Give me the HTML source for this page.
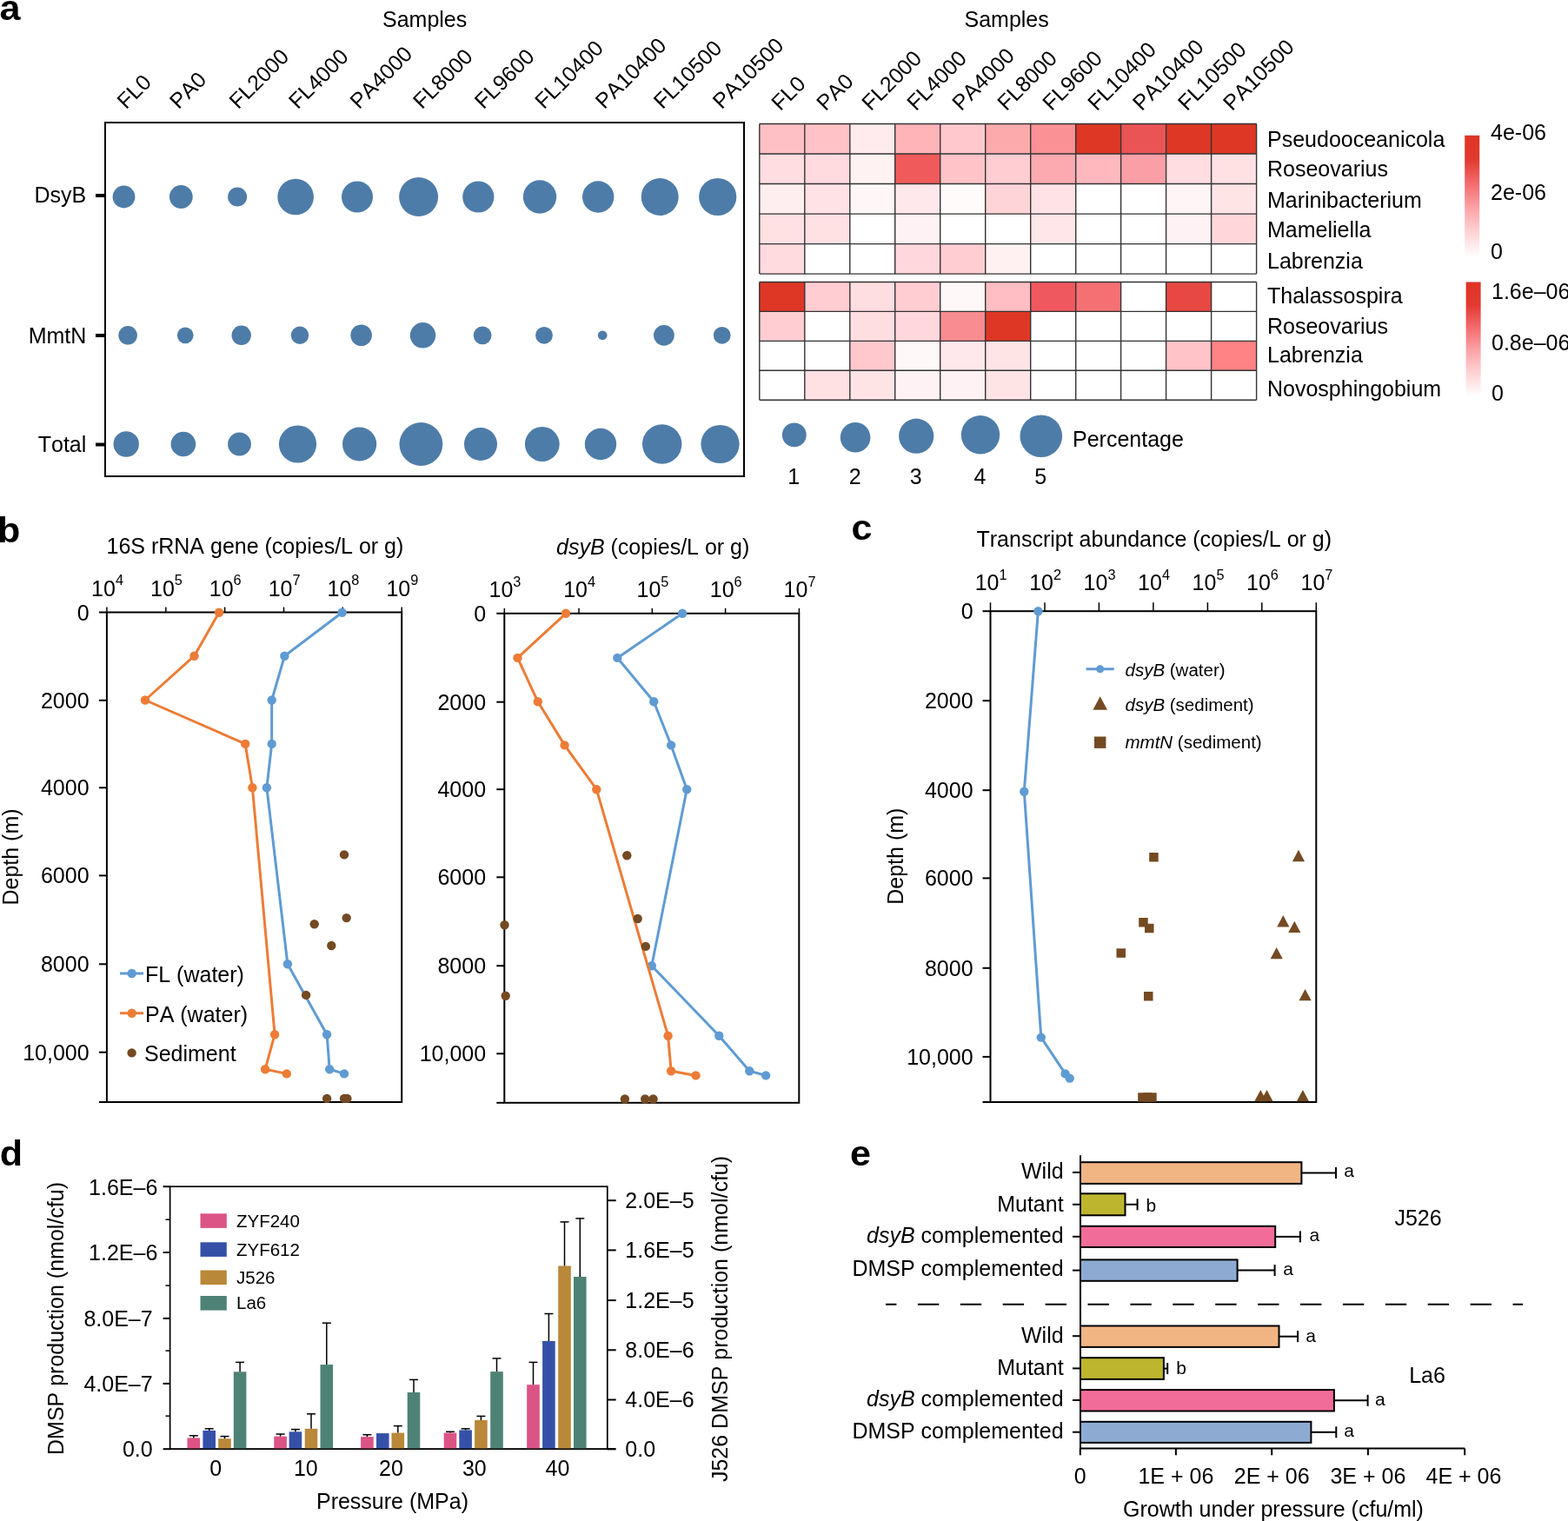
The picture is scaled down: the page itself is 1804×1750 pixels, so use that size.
<!DOCTYPE html>
<html><head><meta charset="utf-8"><title>Figure</title>
<style>
html,body{margin:0;padding:0;background:#fff;}
svg{display:block;}
text{font-family:"Liberation Sans", Arial, Helvetica, sans-serif;fill:#000;font-kerning:none;}
</style></head>
<body>
<svg width="1804" height="1750" viewBox="0 0 1804 1750">
<rect x="0" y="0" width="1804" height="1750" fill="#fff"/>
<text x="0" y="0" font-size="40.7" font-weight="bold" transform="translate(-0.5,23.2) scale(1.06,1)">a</text>
<text x="0" y="0" font-size="40.7" font-weight="bold" transform="translate(-3.0,623.8) scale(1.06,1)">b</text>
<text x="0" y="0" font-size="40.7" font-weight="bold" transform="translate(979.5,620.6) scale(1.06,1)">c</text>
<text x="0" y="0" font-size="40.7" font-weight="bold" transform="translate(-0.3,1341.0) scale(1.06,1)">d</text>
<text x="0" y="0" font-size="40.7" font-weight="bold" transform="translate(978.0,1340.5) scale(1.06,1)">e</text>
<text x="440.0" y="31.4" font-size="25" text-anchor="start" >Samples</text>
<text x="0" y="0" font-size="25" transform="translate(145.0,126.6) rotate(-45)">FL0</text>
<text x="0" y="0" font-size="25" transform="translate(205.5,126.6) rotate(-45)">PA0</text>
<text x="0" y="0" font-size="25" transform="translate(274.0,126.6) rotate(-45)">FL2000</text>
<text x="0" y="0" font-size="25" transform="translate(342.5,126.6) rotate(-45)">FL4000</text>
<text x="0" y="0" font-size="25" transform="translate(413.0,126.6) rotate(-45)">PA4000</text>
<text x="0" y="0" font-size="25" transform="translate(485.5,126.6) rotate(-45)">FL8000</text>
<text x="0" y="0" font-size="25" transform="translate(556.3,126.6) rotate(-45)">FL9600</text>
<text x="0" y="0" font-size="25" transform="translate(625.8,126.6) rotate(-45)">FL10400</text>
<text x="0" y="0" font-size="25" transform="translate(695.3,126.6) rotate(-45)">PA10400</text>
<text x="0" y="0" font-size="25" transform="translate(762.2,126.6) rotate(-45)">FL10500</text>
<text x="0" y="0" font-size="25" transform="translate(830.3,126.6) rotate(-45)">PA10500</text>
<circle cx="142.5" cy="226.5" r="12.9" fill="#4e7ca8"/>
<circle cx="208.3" cy="226.5" r="13.4" fill="#4e7ca8"/>
<circle cx="273.1" cy="226.5" r="11.0" fill="#4e7ca8"/>
<circle cx="340.1" cy="226.5" r="20.8" fill="#4e7ca8"/>
<circle cx="411.0" cy="226.5" r="18.0" fill="#4e7ca8"/>
<circle cx="481.6" cy="226.5" r="22.5" fill="#4e7ca8"/>
<circle cx="550.3" cy="226.5" r="18.1" fill="#4e7ca8"/>
<circle cx="621.0" cy="226.5" r="19.2" fill="#4e7ca8"/>
<circle cx="688.2" cy="226.5" r="18.2" fill="#4e7ca8"/>
<circle cx="759.2" cy="226.5" r="21.5" fill="#4e7ca8"/>
<circle cx="825.7" cy="226.5" r="21.6" fill="#4e7ca8"/>
<circle cx="147.1" cy="385.8" r="10.8" fill="#4e7ca8"/>
<circle cx="213.2" cy="385.8" r="9.4" fill="#4e7ca8"/>
<circle cx="277.7" cy="385.8" r="11.2" fill="#4e7ca8"/>
<circle cx="345.0" cy="385.8" r="10.2" fill="#4e7ca8"/>
<circle cx="415.6" cy="385.8" r="12.3" fill="#4e7ca8"/>
<circle cx="486.5" cy="385.8" r="14.7" fill="#4e7ca8"/>
<circle cx="555.1" cy="385.8" r="10.4" fill="#4e7ca8"/>
<circle cx="626.0" cy="385.8" r="9.9" fill="#4e7ca8"/>
<circle cx="693.2" cy="385.8" r="5.4" fill="#4e7ca8"/>
<circle cx="763.9" cy="385.8" r="11.9" fill="#4e7ca8"/>
<circle cx="830.7" cy="385.8" r="9.9" fill="#4e7ca8"/>
<circle cx="145.2" cy="511.0" r="14.7" fill="#4e7ca8"/>
<circle cx="210.9" cy="511.0" r="14.3" fill="#4e7ca8"/>
<circle cx="275.5" cy="511.0" r="13.4" fill="#4e7ca8"/>
<circle cx="342.5" cy="511.0" r="21.6" fill="#4e7ca8"/>
<circle cx="413.6" cy="511.0" r="19.6" fill="#4e7ca8"/>
<circle cx="484.4" cy="511.0" r="24.9" fill="#4e7ca8"/>
<circle cx="553.0" cy="511.0" r="19.0" fill="#4e7ca8"/>
<circle cx="623.8" cy="511.0" r="19.9" fill="#4e7ca8"/>
<circle cx="691.0" cy="511.0" r="18.2" fill="#4e7ca8"/>
<circle cx="761.7" cy="511.0" r="22.7" fill="#4e7ca8"/>
<circle cx="828.5" cy="511.0" r="22.1" fill="#4e7ca8"/>
<rect x="121" y="141" width="735" height="407" fill="none" stroke="#000" stroke-width="2"/>
<line x1="110.0" y1="225.0" x2="121.0" y2="225.0" stroke="#000" stroke-width="4" />
<line x1="110.0" y1="386.0" x2="121.0" y2="386.0" stroke="#000" stroke-width="4" />
<line x1="110.0" y1="511.5" x2="121.0" y2="511.5" stroke="#000" stroke-width="4" />
<text x="99.3" y="233.3" font-size="25" text-anchor="end" >DsyB</text>
<text x="99.3" y="394.5" font-size="25" text-anchor="end" >MmtN</text>
<text x="99.3" y="520.0" font-size="25" text-anchor="end" >Total</text>
<text x="1109.5" y="31.4" font-size="25" text-anchor="start" >Samples</text>
<text x="0" y="0" font-size="25" transform="translate(897.8,128.5) rotate(-45)">FL0</text>
<text x="0" y="0" font-size="25" transform="translate(949.8,128.5) rotate(-45)">PA0</text>
<text x="0" y="0" font-size="25" transform="translate(1001.8,128.5) rotate(-45)">FL2000</text>
<text x="0" y="0" font-size="25" transform="translate(1053.7,128.5) rotate(-45)">FL4000</text>
<text x="0" y="0" font-size="25" transform="translate(1105.7,128.5) rotate(-45)">PA4000</text>
<text x="0" y="0" font-size="25" transform="translate(1157.7,128.5) rotate(-45)">FL8000</text>
<text x="0" y="0" font-size="25" transform="translate(1209.7,128.5) rotate(-45)">FL9600</text>
<text x="0" y="0" font-size="25" transform="translate(1261.7,128.5) rotate(-45)">FL10400</text>
<text x="0" y="0" font-size="25" transform="translate(1313.6,128.5) rotate(-45)">PA10400</text>
<text x="0" y="0" font-size="25" transform="translate(1365.6,128.5) rotate(-45)">FL10500</text>
<text x="0" y="0" font-size="25" transform="translate(1417.6,128.5) rotate(-45)">PA10500</text>
<rect x="873.8" y="142.5" width="52.0" height="34.5" fill="#ffc0c5" stroke="none" stroke-width="0"/>
<rect x="925.8" y="142.5" width="52.0" height="34.5" fill="#ffc2c7" stroke="none" stroke-width="0"/>
<rect x="977.8" y="142.5" width="52.0" height="34.5" fill="#ffebed" stroke="none" stroke-width="0"/>
<rect x="1029.7" y="142.5" width="52.0" height="34.5" fill="#ffb4b8" stroke="none" stroke-width="0"/>
<rect x="1081.7" y="142.5" width="52.0" height="34.5" fill="#ffc8cc" stroke="none" stroke-width="0"/>
<rect x="1133.7" y="142.5" width="52.0" height="34.5" fill="#fcaaac" stroke="none" stroke-width="0"/>
<rect x="1185.7" y="142.5" width="52.0" height="34.5" fill="#fa9194" stroke="none" stroke-width="0"/>
<rect x="1237.7" y="142.5" width="52.0" height="34.5" fill="#de3726" stroke="none" stroke-width="0"/>
<rect x="1289.6" y="142.5" width="52.0" height="34.5" fill="#ea5455" stroke="none" stroke-width="0"/>
<rect x="1341.6" y="142.5" width="52.0" height="34.5" fill="#de3726" stroke="none" stroke-width="0"/>
<rect x="1393.6" y="142.5" width="52.0" height="34.5" fill="#de3726" stroke="none" stroke-width="0"/>
<rect x="873.8" y="177.0" width="52.0" height="34.5" fill="#ffdde0" stroke="none" stroke-width="0"/>
<rect x="925.8" y="177.0" width="52.0" height="34.5" fill="#ffdade" stroke="none" stroke-width="0"/>
<rect x="977.8" y="177.0" width="52.0" height="34.5" fill="#fff2f3" stroke="none" stroke-width="0"/>
<rect x="1029.7" y="177.0" width="52.0" height="34.5" fill="#f05a5a" stroke="none" stroke-width="0"/>
<rect x="1081.7" y="177.0" width="52.0" height="34.5" fill="#ffc3c8" stroke="none" stroke-width="0"/>
<rect x="1133.7" y="177.0" width="52.0" height="34.5" fill="#ffcdd2" stroke="none" stroke-width="0"/>
<rect x="1185.7" y="177.0" width="52.0" height="34.5" fill="#fcaaaf" stroke="none" stroke-width="0"/>
<rect x="1237.7" y="177.0" width="52.0" height="34.5" fill="#ffb9be" stroke="none" stroke-width="0"/>
<rect x="1289.6" y="177.0" width="52.0" height="34.5" fill="#fa9fa5" stroke="none" stroke-width="0"/>
<rect x="1341.6" y="177.0" width="52.0" height="34.5" fill="#ffdde0" stroke="none" stroke-width="0"/>
<rect x="1393.6" y="177.0" width="52.0" height="34.5" fill="#ffe1e4" stroke="none" stroke-width="0"/>
<rect x="873.8" y="211.5" width="52.0" height="34.5" fill="#ffeef0" stroke="none" stroke-width="0"/>
<rect x="925.8" y="211.5" width="52.0" height="34.5" fill="#ffe2e6" stroke="none" stroke-width="0"/>
<rect x="977.8" y="211.5" width="52.0" height="34.5" fill="#fff6f7" stroke="none" stroke-width="0"/>
<rect x="1029.7" y="211.5" width="52.0" height="34.5" fill="#ffe8eb" stroke="none" stroke-width="0"/>
<rect x="1081.7" y="211.5" width="52.0" height="34.5" fill="#fffbfb" stroke="none" stroke-width="0"/>
<rect x="1133.7" y="211.5" width="52.0" height="34.5" fill="#ffd4d8" stroke="none" stroke-width="0"/>
<rect x="1185.7" y="211.5" width="52.0" height="34.5" fill="#ffe2e6" stroke="none" stroke-width="0"/>
<rect x="1237.7" y="211.5" width="52.0" height="34.5" fill="#ffffff" stroke="none" stroke-width="0"/>
<rect x="1289.6" y="211.5" width="52.0" height="34.5" fill="#ffffff" stroke="none" stroke-width="0"/>
<rect x="1341.6" y="211.5" width="52.0" height="34.5" fill="#fff5f6" stroke="none" stroke-width="0"/>
<rect x="1393.6" y="211.5" width="52.0" height="34.5" fill="#ffe4e6" stroke="none" stroke-width="0"/>
<rect x="873.8" y="246.1" width="52.0" height="34.5" fill="#ffe1e4" stroke="none" stroke-width="0"/>
<rect x="925.8" y="246.1" width="52.0" height="34.5" fill="#ffe1e4" stroke="none" stroke-width="0"/>
<rect x="977.8" y="246.1" width="52.0" height="34.5" fill="#ffffff" stroke="none" stroke-width="0"/>
<rect x="1029.7" y="246.1" width="52.0" height="34.5" fill="#fff2f4" stroke="none" stroke-width="0"/>
<rect x="1081.7" y="246.1" width="52.0" height="34.5" fill="#ffffff" stroke="none" stroke-width="0"/>
<rect x="1133.7" y="246.1" width="52.0" height="34.5" fill="#ffffff" stroke="none" stroke-width="0"/>
<rect x="1185.7" y="246.1" width="52.0" height="34.5" fill="#ffe6e9" stroke="none" stroke-width="0"/>
<rect x="1237.7" y="246.1" width="52.0" height="34.5" fill="#ffffff" stroke="none" stroke-width="0"/>
<rect x="1289.6" y="246.1" width="52.0" height="34.5" fill="#ffffff" stroke="none" stroke-width="0"/>
<rect x="1341.6" y="246.1" width="52.0" height="34.5" fill="#fff2f4" stroke="none" stroke-width="0"/>
<rect x="1393.6" y="246.1" width="52.0" height="34.5" fill="#ffd7da" stroke="none" stroke-width="0"/>
<rect x="873.8" y="280.6" width="52.0" height="34.5" fill="#ffdade" stroke="none" stroke-width="0"/>
<rect x="925.8" y="280.6" width="52.0" height="34.5" fill="#ffffff" stroke="none" stroke-width="0"/>
<rect x="977.8" y="280.6" width="52.0" height="34.5" fill="#ffffff" stroke="none" stroke-width="0"/>
<rect x="1029.7" y="280.6" width="52.0" height="34.5" fill="#ffd7dc" stroke="none" stroke-width="0"/>
<rect x="1081.7" y="280.6" width="52.0" height="34.5" fill="#ffcdd2" stroke="none" stroke-width="0"/>
<rect x="1133.7" y="280.6" width="52.0" height="34.5" fill="#fff0f2" stroke="none" stroke-width="0"/>
<rect x="1185.7" y="280.6" width="52.0" height="34.5" fill="#ffffff" stroke="none" stroke-width="0"/>
<rect x="1237.7" y="280.6" width="52.0" height="34.5" fill="#ffffff" stroke="none" stroke-width="0"/>
<rect x="1289.6" y="280.6" width="52.0" height="34.5" fill="#ffffff" stroke="none" stroke-width="0"/>
<rect x="1341.6" y="280.6" width="52.0" height="34.5" fill="#ffffff" stroke="none" stroke-width="0"/>
<rect x="1393.6" y="280.6" width="52.0" height="34.5" fill="#ffffff" stroke="none" stroke-width="0"/>
<line x1="873.8" y1="142.5" x2="1445.6" y2="142.5" stroke="#333" stroke-width="1.4" />
<line x1="873.8" y1="177.0" x2="1445.6" y2="177.0" stroke="#333" stroke-width="1.4" />
<line x1="873.8" y1="211.5" x2="1445.6" y2="211.5" stroke="#333" stroke-width="1.4" />
<line x1="873.8" y1="246.1" x2="1445.6" y2="246.1" stroke="#333" stroke-width="1.4" />
<line x1="873.8" y1="280.6" x2="1445.6" y2="280.6" stroke="#333" stroke-width="1.4" />
<line x1="873.8" y1="315.1" x2="1445.6" y2="315.1" stroke="#333" stroke-width="1.4" />
<line x1="873.8" y1="142.5" x2="873.8" y2="315.1" stroke="#333" stroke-width="1.4" />
<line x1="925.8" y1="142.5" x2="925.8" y2="315.1" stroke="#333" stroke-width="1.4" />
<line x1="977.8" y1="142.5" x2="977.8" y2="315.1" stroke="#333" stroke-width="1.4" />
<line x1="1029.7" y1="142.5" x2="1029.7" y2="315.1" stroke="#333" stroke-width="1.4" />
<line x1="1081.7" y1="142.5" x2="1081.7" y2="315.1" stroke="#333" stroke-width="1.4" />
<line x1="1133.7" y1="142.5" x2="1133.7" y2="315.1" stroke="#333" stroke-width="1.4" />
<line x1="1185.7" y1="142.5" x2="1185.7" y2="315.1" stroke="#333" stroke-width="1.4" />
<line x1="1237.7" y1="142.5" x2="1237.7" y2="315.1" stroke="#333" stroke-width="1.4" />
<line x1="1289.6" y1="142.5" x2="1289.6" y2="315.1" stroke="#333" stroke-width="1.4" />
<line x1="1341.6" y1="142.5" x2="1341.6" y2="315.1" stroke="#333" stroke-width="1.4" />
<line x1="1393.6" y1="142.5" x2="1393.6" y2="315.1" stroke="#333" stroke-width="1.4" />
<line x1="1445.6" y1="142.5" x2="1445.6" y2="315.1" stroke="#333" stroke-width="1.4" />
<rect x="873.8" y="324.5" width="52.0" height="33.9" fill="#de3726" stroke="none" stroke-width="0"/>
<rect x="925.8" y="324.5" width="52.0" height="33.9" fill="#ffcdd2" stroke="none" stroke-width="0"/>
<rect x="977.8" y="324.5" width="52.0" height="33.9" fill="#ffdee1" stroke="none" stroke-width="0"/>
<rect x="1029.7" y="324.5" width="52.0" height="33.9" fill="#ffcdd2" stroke="none" stroke-width="0"/>
<rect x="1081.7" y="324.5" width="52.0" height="33.9" fill="#fff8f8" stroke="none" stroke-width="0"/>
<rect x="1133.7" y="324.5" width="52.0" height="33.9" fill="#ffbec3" stroke="none" stroke-width="0"/>
<rect x="1185.7" y="324.5" width="52.0" height="33.9" fill="#f0585f" stroke="none" stroke-width="0"/>
<rect x="1237.7" y="324.5" width="52.0" height="33.9" fill="#f47073" stroke="none" stroke-width="0"/>
<rect x="1289.6" y="324.5" width="52.0" height="33.9" fill="#ffffff" stroke="none" stroke-width="0"/>
<rect x="1341.6" y="324.5" width="52.0" height="33.9" fill="#e84844" stroke="none" stroke-width="0"/>
<rect x="1393.6" y="324.5" width="52.0" height="33.9" fill="#ffffff" stroke="none" stroke-width="0"/>
<rect x="873.8" y="358.4" width="52.0" height="33.9" fill="#ffcdd2" stroke="none" stroke-width="0"/>
<rect x="925.8" y="358.4" width="52.0" height="33.9" fill="#ffffff" stroke="none" stroke-width="0"/>
<rect x="977.8" y="358.4" width="52.0" height="33.9" fill="#ffdee1" stroke="none" stroke-width="0"/>
<rect x="1029.7" y="358.4" width="52.0" height="33.9" fill="#ffd7dc" stroke="none" stroke-width="0"/>
<rect x="1081.7" y="358.4" width="52.0" height="33.9" fill="#f88c91" stroke="none" stroke-width="0"/>
<rect x="1133.7" y="358.4" width="52.0" height="33.9" fill="#de3726" stroke="none" stroke-width="0"/>
<rect x="1185.7" y="358.4" width="52.0" height="33.9" fill="#ffffff" stroke="none" stroke-width="0"/>
<rect x="1237.7" y="358.4" width="52.0" height="33.9" fill="#ffffff" stroke="none" stroke-width="0"/>
<rect x="1289.6" y="358.4" width="52.0" height="33.9" fill="#ffffff" stroke="none" stroke-width="0"/>
<rect x="1341.6" y="358.4" width="52.0" height="33.9" fill="#ffffff" stroke="none" stroke-width="0"/>
<rect x="1393.6" y="358.4" width="52.0" height="33.9" fill="#ffffff" stroke="none" stroke-width="0"/>
<rect x="873.8" y="392.4" width="52.0" height="33.9" fill="#ffffff" stroke="none" stroke-width="0"/>
<rect x="925.8" y="392.4" width="52.0" height="33.9" fill="#ffffff" stroke="none" stroke-width="0"/>
<rect x="977.8" y="392.4" width="52.0" height="33.9" fill="#ffc8cd" stroke="none" stroke-width="0"/>
<rect x="1029.7" y="392.4" width="52.0" height="33.9" fill="#fff8f8" stroke="none" stroke-width="0"/>
<rect x="1081.7" y="392.4" width="52.0" height="33.9" fill="#ffe8eb" stroke="none" stroke-width="0"/>
<rect x="1133.7" y="392.4" width="52.0" height="33.9" fill="#ffe4e6" stroke="none" stroke-width="0"/>
<rect x="1185.7" y="392.4" width="52.0" height="33.9" fill="#ffffff" stroke="none" stroke-width="0"/>
<rect x="1237.7" y="392.4" width="52.0" height="33.9" fill="#ffffff" stroke="none" stroke-width="0"/>
<rect x="1289.6" y="392.4" width="52.0" height="33.9" fill="#ffffff" stroke="none" stroke-width="0"/>
<rect x="1341.6" y="392.4" width="52.0" height="33.9" fill="#ffc3c8" stroke="none" stroke-width="0"/>
<rect x="1393.6" y="392.4" width="52.0" height="33.9" fill="#ff8284" stroke="none" stroke-width="0"/>
<rect x="873.8" y="426.3" width="52.0" height="33.9" fill="#ffffff" stroke="none" stroke-width="0"/>
<rect x="925.8" y="426.3" width="52.0" height="33.9" fill="#ffe1e4" stroke="none" stroke-width="0"/>
<rect x="977.8" y="426.3" width="52.0" height="33.9" fill="#ffe4e6" stroke="none" stroke-width="0"/>
<rect x="1029.7" y="426.3" width="52.0" height="33.9" fill="#fff2f4" stroke="none" stroke-width="0"/>
<rect x="1081.7" y="426.3" width="52.0" height="33.9" fill="#fff2f4" stroke="none" stroke-width="0"/>
<rect x="1133.7" y="426.3" width="52.0" height="33.9" fill="#ffe4e6" stroke="none" stroke-width="0"/>
<rect x="1185.7" y="426.3" width="52.0" height="33.9" fill="#ffffff" stroke="none" stroke-width="0"/>
<rect x="1237.7" y="426.3" width="52.0" height="33.9" fill="#ffffff" stroke="none" stroke-width="0"/>
<rect x="1289.6" y="426.3" width="52.0" height="33.9" fill="#ffffff" stroke="none" stroke-width="0"/>
<rect x="1341.6" y="426.3" width="52.0" height="33.9" fill="#ffffff" stroke="none" stroke-width="0"/>
<rect x="1393.6" y="426.3" width="52.0" height="33.9" fill="#ffffff" stroke="none" stroke-width="0"/>
<line x1="873.8" y1="324.5" x2="1445.6" y2="324.5" stroke="#333" stroke-width="1.4" />
<line x1="873.8" y1="358.4" x2="1445.6" y2="358.4" stroke="#333" stroke-width="1.4" />
<line x1="873.8" y1="392.4" x2="1445.6" y2="392.4" stroke="#333" stroke-width="1.4" />
<line x1="873.8" y1="426.3" x2="1445.6" y2="426.3" stroke="#333" stroke-width="1.4" />
<line x1="873.8" y1="460.2" x2="1445.6" y2="460.2" stroke="#333" stroke-width="1.4" />
<line x1="873.8" y1="324.5" x2="873.8" y2="460.2" stroke="#333" stroke-width="1.4" />
<line x1="925.8" y1="324.5" x2="925.8" y2="460.2" stroke="#333" stroke-width="1.4" />
<line x1="977.8" y1="324.5" x2="977.8" y2="460.2" stroke="#333" stroke-width="1.4" />
<line x1="1029.7" y1="324.5" x2="1029.7" y2="460.2" stroke="#333" stroke-width="1.4" />
<line x1="1081.7" y1="324.5" x2="1081.7" y2="460.2" stroke="#333" stroke-width="1.4" />
<line x1="1133.7" y1="324.5" x2="1133.7" y2="460.2" stroke="#333" stroke-width="1.4" />
<line x1="1185.7" y1="324.5" x2="1185.7" y2="460.2" stroke="#333" stroke-width="1.4" />
<line x1="1237.7" y1="324.5" x2="1237.7" y2="460.2" stroke="#333" stroke-width="1.4" />
<line x1="1289.6" y1="324.5" x2="1289.6" y2="460.2" stroke="#333" stroke-width="1.4" />
<line x1="1341.6" y1="324.5" x2="1341.6" y2="460.2" stroke="#333" stroke-width="1.4" />
<line x1="1393.6" y1="324.5" x2="1393.6" y2="460.2" stroke="#333" stroke-width="1.4" />
<line x1="1445.6" y1="324.5" x2="1445.6" y2="460.2" stroke="#333" stroke-width="1.4" />
<text x="1458.0" y="168.7" font-size="25" text-anchor="start" >Pseudooceanicola</text>
<text x="1458.0" y="203.0" font-size="25" text-anchor="start" >Roseovarius</text>
<text x="1458.0" y="239.4" font-size="25" text-anchor="start" >Marinibacterium</text>
<text x="1458.0" y="272.6" font-size="25" text-anchor="start" >Mameliella</text>
<text x="1458.0" y="309.4" font-size="25" text-anchor="start" >Labrenzia</text>
<text x="1458.0" y="348.5" font-size="25" text-anchor="start" >Thalassospira</text>
<text x="1458.0" y="384.4" font-size="25" text-anchor="start" >Roseovarius</text>
<text x="1458.0" y="417.1" font-size="25" text-anchor="start" >Labrenzia</text>
<text x="1458.0" y="456.1" font-size="25" text-anchor="start" >Novosphingobium</text>
<defs>
<linearGradient id="cb" x1="0" y1="0" x2="0" y2="1">
<stop offset="0" stop-color="#de3424"/>
<stop offset="0.2" stop-color="#e23a30"/>
<stop offset="0.4" stop-color="#f46c70"/>
<stop offset="0.6" stop-color="#fca4a8"/>
<stop offset="0.8" stop-color="#ffd4d7"/>
<stop offset="1" stop-color="#ffffff"/>
</linearGradient>
</defs>
<rect x="1685.2" y="155.8" width="17" height="140" fill="url(#cb)"/>
<rect x="1686.6" y="324.5" width="17" height="132" fill="url(#cb)"/>
<text x="1715.0" y="161.2" font-size="25" text-anchor="start" >4e-06</text>
<text x="1715.0" y="229.9" font-size="25" text-anchor="start" >2e-06</text>
<text x="1715.0" y="298.4" font-size="25" text-anchor="start" >0</text>
<text x="1716.0" y="343.6" font-size="25" text-anchor="start" >1.6e&#8211;06</text>
<text x="1716.0" y="402.7" font-size="25" text-anchor="start" >0.8e&#8211;06</text>
<text x="1716.0" y="461.2" font-size="25" text-anchor="start" >0</text>
<circle cx="913.8" cy="500.4" r="13.9" fill="#4e7ca8"/>
<text x="913.3" y="556.5" font-size="25" text-anchor="middle" >1</text>
<circle cx="984.1" cy="503.3" r="17.3" fill="#4e7ca8"/>
<text x="983.6" y="556.5" font-size="25" text-anchor="middle" >2</text>
<circle cx="1054.2" cy="501.7" r="20.1" fill="#4e7ca8"/>
<text x="1053.7" y="556.5" font-size="25" text-anchor="middle" >3</text>
<circle cx="1128.0" cy="500.3" r="22.2" fill="#4e7ca8"/>
<text x="1127.5" y="556.5" font-size="25" text-anchor="middle" >4</text>
<circle cx="1197.8" cy="501.8" r="24.3" fill="#4e7ca8"/>
<text x="1197.3" y="556.5" font-size="25" text-anchor="middle" >5</text>
<text x="1234.0" y="513.5" font-size="25" text-anchor="start" >Percentage</text>
<text x="122.5" y="637.2" font-size="25" text-anchor="start" >16S rRNA gene (copies/L or g)</text>
<rect x="122.9" y="704.5" width="339.29999999999995" height="563.5" fill="none" stroke="#000" stroke-width="2"/>
<line x1="113.9" y1="704.5" x2="122.9" y2="704.5" stroke="#000" stroke-width="2" />
<text x="102.6" y="713.5" font-size="25" text-anchor="end" >0</text>
<line x1="113.9" y1="805.8" x2="122.9" y2="805.8" stroke="#000" stroke-width="2" />
<text x="102.6" y="814.8" font-size="25" text-anchor="end" >2000</text>
<line x1="113.9" y1="906.3" x2="122.9" y2="906.3" stroke="#000" stroke-width="2" />
<text x="102.6" y="915.3" font-size="25" text-anchor="end" >4000</text>
<line x1="113.9" y1="1007.4" x2="122.9" y2="1007.4" stroke="#000" stroke-width="2" />
<text x="102.6" y="1016.4" font-size="25" text-anchor="end" >6000</text>
<line x1="113.9" y1="1109.3" x2="122.9" y2="1109.3" stroke="#000" stroke-width="2" />
<text x="102.6" y="1118.3" font-size="25" text-anchor="end" >8000</text>
<line x1="113.9" y1="1210.7" x2="122.9" y2="1210.7" stroke="#000" stroke-width="2" />
<text x="102.6" y="1219.7" font-size="25" text-anchor="end" >10,000</text>
<line x1="113.9" y1="1268.0" x2="122.9" y2="1268.0" stroke="#000" stroke-width="2" />
<line x1="122.9" y1="698.5" x2="122.9" y2="704.5" stroke="#000" stroke-width="1.5" />
<line x1="190.8" y1="698.5" x2="190.8" y2="704.5" stroke="#000" stroke-width="1.5" />
<line x1="258.6" y1="698.5" x2="258.6" y2="704.5" stroke="#000" stroke-width="1.5" />
<line x1="326.5" y1="698.5" x2="326.5" y2="704.5" stroke="#000" stroke-width="1.5" />
<line x1="394.3" y1="698.5" x2="394.3" y2="704.5" stroke="#000" stroke-width="1.5" />
<line x1="462.2" y1="698.5" x2="462.2" y2="704.5" stroke="#000" stroke-width="1.5" />
<text x="105.1" y="685.7" font-size="25">10<tspan font-size="16.3" dy="-12.7">4</tspan></text>
<text x="173.0" y="685.7" font-size="25">10<tspan font-size="16.3" dy="-12.7">5</tspan></text>
<text x="240.8" y="685.7" font-size="25">10<tspan font-size="16.3" dy="-12.7">6</tspan></text>
<text x="308.7" y="685.7" font-size="25">10<tspan font-size="16.3" dy="-12.7">7</tspan></text>
<text x="376.5" y="685.7" font-size="25">10<tspan font-size="16.3" dy="-12.7">8</tspan></text>
<text x="444.4" y="685.7" font-size="25">10<tspan font-size="16.3" dy="-12.7">9</tspan></text>
<polyline points="393.6,704.7 327.4,754.7 312.7,805.5 312.7,855.9 306.9,906.3 330.9,1109.3 376.1,1190.2 379.2,1230.3 396.0,1235.4" fill="none" stroke="#5f9bd3" stroke-width="3" stroke-linejoin="round"/>
<circle cx="393.6" cy="704.7" r="5.2" fill="#5f9bd3"/>
<circle cx="327.4" cy="754.7" r="5.2" fill="#5f9bd3"/>
<circle cx="312.7" cy="805.5" r="5.2" fill="#5f9bd3"/>
<circle cx="312.7" cy="855.9" r="5.2" fill="#5f9bd3"/>
<circle cx="306.9" cy="906.3" r="5.2" fill="#5f9bd3"/>
<circle cx="330.9" cy="1109.3" r="5.2" fill="#5f9bd3"/>
<circle cx="376.1" cy="1190.2" r="5.2" fill="#5f9bd3"/>
<circle cx="379.2" cy="1230.3" r="5.2" fill="#5f9bd3"/>
<circle cx="396.0" cy="1235.4" r="5.2" fill="#5f9bd3"/>
<polyline points="252.0,704.7 223.5,754.7 167.0,805.5 282.2,855.9 290.4,906.3 316.1,1190.2 305.1,1230.3 329.8,1235.4" fill="none" stroke="#ec7c36" stroke-width="3" stroke-linejoin="round"/>
<circle cx="252.0" cy="704.7" r="5.2" fill="#ec7c36"/>
<circle cx="223.5" cy="754.7" r="5.2" fill="#ec7c36"/>
<circle cx="167.0" cy="805.5" r="5.2" fill="#ec7c36"/>
<circle cx="282.2" cy="855.9" r="5.2" fill="#ec7c36"/>
<circle cx="290.4" cy="906.3" r="5.2" fill="#ec7c36"/>
<circle cx="316.1" cy="1190.2" r="5.2" fill="#ec7c36"/>
<circle cx="305.1" cy="1230.3" r="5.2" fill="#ec7c36"/>
<circle cx="329.8" cy="1235.4" r="5.2" fill="#ec7c36"/>
<circle cx="396.0" cy="983.4" r="5.2" fill="#744a22"/>
<circle cx="398.7" cy="1056.1" r="5.2" fill="#744a22"/>
<circle cx="361.7" cy="1063.3" r="5.2" fill="#744a22"/>
<circle cx="381.3" cy="1088.0" r="5.2" fill="#744a22"/>
<circle cx="352.1" cy="1144.9" r="5.2" fill="#744a22"/>
<circle cx="376.1" cy="1263.9" r="5.2" fill="#744a22"/>
<circle cx="396.0" cy="1263.9" r="5.2" fill="#744a22"/>
<circle cx="399.4" cy="1263.9" r="5.2" fill="#744a22"/>
<line x1="138.0" y1="1120.0" x2="165.0" y2="1120.0" stroke="#5f9bd3" stroke-width="3" />
<circle cx="151.6" cy="1120.0" r="5.2" fill="#5f9bd3"/>
<text x="167.0" y="1129.9" font-size="25" text-anchor="start" >FL (water)</text>
<line x1="138.0" y1="1165.7" x2="165.0" y2="1165.7" stroke="#ec7c36" stroke-width="3" />
<circle cx="151.6" cy="1165.7" r="5.2" fill="#ec7c36"/>
<text x="167.0" y="1176.0" font-size="25" text-anchor="start" >PA (water)</text>
<circle cx="151.6" cy="1211.4" r="5.2" fill="#744a22"/>
<text x="166.0" y="1221.4" font-size="25" text-anchor="start" >Sediment</text>
<text x="0" y="0" font-size="25" text-anchor="middle" transform="translate(21.2,986) rotate(-90)">Depth (m)</text>
<text x="640" y="638" font-size="25"><tspan font-style="italic">dsyB</tspan> (copies/L or g)</text>
<g transform="translate(0,0.8)">
<rect x="580.3" y="705" width="339.0" height="563" fill="none" stroke="#000" stroke-width="2"/>
<line x1="571.3" y1="705.0" x2="580.3" y2="705.0" stroke="#000" stroke-width="2" />
<text x="559.1" y="714.0" font-size="25" text-anchor="end" >0</text>
<line x1="571.3" y1="806.9" x2="580.3" y2="806.9" stroke="#000" stroke-width="2" />
<text x="559.1" y="815.9" font-size="25" text-anchor="end" >2000</text>
<line x1="571.3" y1="907.4" x2="580.3" y2="907.4" stroke="#000" stroke-width="2" />
<text x="559.1" y="916.4" font-size="25" text-anchor="end" >4000</text>
<line x1="571.3" y1="1008.5" x2="580.3" y2="1008.5" stroke="#000" stroke-width="2" />
<text x="559.1" y="1017.5" font-size="25" text-anchor="end" >6000</text>
<line x1="571.3" y1="1110.4" x2="580.3" y2="1110.4" stroke="#000" stroke-width="2" />
<text x="559.1" y="1119.4" font-size="25" text-anchor="end" >8000</text>
<line x1="571.3" y1="1211.5" x2="580.3" y2="1211.5" stroke="#000" stroke-width="2" />
<text x="559.1" y="1220.5" font-size="25" text-anchor="end" >10,000</text>
<line x1="571.3" y1="1268.0" x2="580.3" y2="1268.0" stroke="#000" stroke-width="2" />
<line x1="580.3" y1="699.0" x2="580.3" y2="705.0" stroke="#000" stroke-width="1.5" />
<line x1="666.0" y1="699.0" x2="666.0" y2="705.0" stroke="#000" stroke-width="1.5" />
<line x1="750.3" y1="699.0" x2="750.3" y2="705.0" stroke="#000" stroke-width="1.5" />
<line x1="834.6" y1="699.0" x2="834.6" y2="705.0" stroke="#000" stroke-width="1.5" />
<line x1="919.4" y1="699.0" x2="919.4" y2="705.0" stroke="#000" stroke-width="1.5" />
<text x="562.5" y="686.6" font-size="25">10<tspan font-size="16.3" dy="-12.7">3</tspan></text>
<text x="648.2" y="686.6" font-size="25">10<tspan font-size="16.3" dy="-12.7">4</tspan></text>
<text x="732.5" y="686.6" font-size="25">10<tspan font-size="16.3" dy="-12.7">5</tspan></text>
<text x="816.8" y="686.6" font-size="25">10<tspan font-size="16.3" dy="-12.7">6</tspan></text>
<text x="901.6" y="686.6" font-size="25">10<tspan font-size="16.3" dy="-12.7">7</tspan></text>
<polyline points="785.1,705.0 710.3,756.1 752.2,806.5 772.1,856.6 790.2,907.4 749.8,1110.4 827.3,1191.0 862.3,1231.4 881.1,1236.6" fill="none" stroke="#5f9bd3" stroke-width="3" stroke-linejoin="round"/>
<circle cx="785.1" cy="705.0" r="5.2" fill="#5f9bd3"/>
<circle cx="710.3" cy="756.1" r="5.2" fill="#5f9bd3"/>
<circle cx="752.2" cy="806.5" r="5.2" fill="#5f9bd3"/>
<circle cx="772.1" cy="856.6" r="5.2" fill="#5f9bd3"/>
<circle cx="790.2" cy="907.4" r="5.2" fill="#5f9bd3"/>
<circle cx="749.8" cy="1110.4" r="5.2" fill="#5f9bd3"/>
<circle cx="827.3" cy="1191.0" r="5.2" fill="#5f9bd3"/>
<circle cx="862.3" cy="1231.4" r="5.2" fill="#5f9bd3"/>
<circle cx="881.1" cy="1236.6" r="5.2" fill="#5f9bd3"/>
<polyline points="651.0,705.0 595.5,756.1 618.8,806.5 649.6,856.6 686.3,907.4 768.6,1191.0 772.1,1231.4 800.5,1236.6" fill="none" stroke="#ec7c36" stroke-width="3" stroke-linejoin="round"/>
<circle cx="651.0" cy="705.0" r="5.2" fill="#ec7c36"/>
<circle cx="595.5" cy="756.1" r="5.2" fill="#ec7c36"/>
<circle cx="618.8" cy="806.5" r="5.2" fill="#ec7c36"/>
<circle cx="649.6" cy="856.6" r="5.2" fill="#ec7c36"/>
<circle cx="686.3" cy="907.4" r="5.2" fill="#ec7c36"/>
<circle cx="768.6" cy="1191.0" r="5.2" fill="#ec7c36"/>
<circle cx="772.1" cy="1231.4" r="5.2" fill="#ec7c36"/>
<circle cx="800.5" cy="1236.6" r="5.2" fill="#ec7c36"/>
<circle cx="721.3" cy="983.5" r="5.2" fill="#744a22"/>
<circle cx="733.7" cy="1056.2" r="5.2" fill="#744a22"/>
<circle cx="580.5" cy="1063.4" r="5.2" fill="#744a22"/>
<circle cx="742.9" cy="1088.1" r="5.2" fill="#744a22"/>
<circle cx="581.7" cy="1145.0" r="5.2" fill="#744a22"/>
<circle cx="718.9" cy="1263.7" r="5.2" fill="#744a22"/>
<circle cx="742.2" cy="1263.7" r="5.2" fill="#744a22"/>
<circle cx="751.5" cy="1263.7" r="5.2" fill="#744a22"/>
</g>
<text x="1123.5" y="629.2" font-size="25" text-anchor="start" >Transcript abundance (copies/L or g)</text>
<rect x="1139.5" y="703.2" width="374.79999999999995" height="564.8" fill="none" stroke="#000" stroke-width="2"/>
<line x1="1130.5" y1="703.2" x2="1139.5" y2="703.2" stroke="#000" stroke-width="2" />
<text x="1119.6" y="712.2" font-size="25" text-anchor="end" >0</text>
<line x1="1130.5" y1="806.2" x2="1139.5" y2="806.2" stroke="#000" stroke-width="2" />
<text x="1119.6" y="815.2" font-size="25" text-anchor="end" >2000</text>
<line x1="1130.5" y1="909.2" x2="1139.5" y2="909.2" stroke="#000" stroke-width="2" />
<text x="1119.6" y="918.2" font-size="25" text-anchor="end" >4000</text>
<line x1="1130.5" y1="1010.4" x2="1139.5" y2="1010.4" stroke="#000" stroke-width="2" />
<text x="1119.6" y="1019.4" font-size="25" text-anchor="end" >6000</text>
<line x1="1130.5" y1="1113.8" x2="1139.5" y2="1113.8" stroke="#000" stroke-width="2" />
<text x="1119.6" y="1122.8" font-size="25" text-anchor="end" >8000</text>
<line x1="1130.5" y1="1215.9" x2="1139.5" y2="1215.9" stroke="#000" stroke-width="2" />
<text x="1119.6" y="1224.9" font-size="25" text-anchor="end" >10,000</text>
<line x1="1130.5" y1="1268.0" x2="1139.5" y2="1268.0" stroke="#000" stroke-width="2" />
<line x1="1139.5" y1="693.2" x2="1139.5" y2="703.2" stroke="#000" stroke-width="1.5" />
<line x1="1202.0" y1="693.2" x2="1202.0" y2="703.2" stroke="#000" stroke-width="1.5" />
<line x1="1264.4" y1="693.2" x2="1264.4" y2="703.2" stroke="#000" stroke-width="1.5" />
<line x1="1326.9" y1="693.2" x2="1326.9" y2="703.2" stroke="#000" stroke-width="1.5" />
<line x1="1389.4" y1="693.2" x2="1389.4" y2="703.2" stroke="#000" stroke-width="1.5" />
<line x1="1451.8" y1="693.2" x2="1451.8" y2="703.2" stroke="#000" stroke-width="1.5" />
<line x1="1514.3" y1="693.2" x2="1514.3" y2="703.2" stroke="#000" stroke-width="1.5" />
<text x="1121.7" y="679.3" font-size="25">10<tspan font-size="16.3" dy="-12.7">1</tspan></text>
<text x="1184.2" y="679.3" font-size="25">10<tspan font-size="16.3" dy="-12.7">2</tspan></text>
<text x="1246.6" y="679.3" font-size="25">10<tspan font-size="16.3" dy="-12.7">3</tspan></text>
<text x="1309.1" y="679.3" font-size="25">10<tspan font-size="16.3" dy="-12.7">4</tspan></text>
<text x="1371.6" y="679.3" font-size="25">10<tspan font-size="16.3" dy="-12.7">5</tspan></text>
<text x="1434.0" y="679.3" font-size="25">10<tspan font-size="16.3" dy="-12.7">6</tspan></text>
<text x="1496.5" y="679.3" font-size="25">10<tspan font-size="16.3" dy="-12.7">7</tspan></text>
<polyline points="1194.4,703.2 1178.3,910.7 1197.8,1193.6 1225.6,1235.4 1230.7,1240.6" fill="none" stroke="#5f9bd3" stroke-width="3" stroke-linejoin="round"/>
<circle cx="1194.4" cy="703.2" r="5.2" fill="#5f9bd3"/>
<circle cx="1178.3" cy="910.7" r="5.2" fill="#5f9bd3"/>
<circle cx="1197.8" cy="1193.6" r="5.2" fill="#5f9bd3"/>
<circle cx="1225.6" cy="1235.4" r="5.2" fill="#5f9bd3"/>
<circle cx="1230.7" cy="1240.6" r="5.2" fill="#5f9bd3"/>
<text x="0" y="0" font-size="25" text-anchor="middle" transform="translate(1039,985.2) rotate(-90)">Depth (m)</text>
<rect x="1322.2" y="981.0" width="10.5" height="10.5" fill="#744a22" stroke="none" stroke-width="0"/>
<rect x="1310.2" y="1056.0" width="10.5" height="10.5" fill="#744a22" stroke="none" stroke-width="0"/>
<rect x="1317.0" y="1062.8" width="10.5" height="10.5" fill="#744a22" stroke="none" stroke-width="0"/>
<rect x="1284.5" y="1091.3" width="10.5" height="10.5" fill="#744a22" stroke="none" stroke-width="0"/>
<rect x="1316.0" y="1141.0" width="10.5" height="10.5" fill="#744a22" stroke="none" stroke-width="0"/>
<rect x="1309.2" y="1257.3" width="10.5" height="10.5" fill="#744a22" stroke="none" stroke-width="0"/>
<rect x="1314.8" y="1257.3" width="10.5" height="10.5" fill="#744a22" stroke="none" stroke-width="0"/>
<rect x="1320.2" y="1257.3" width="10.5" height="10.5" fill="#744a22" stroke="none" stroke-width="0"/>
<polygon points="1494.0,977.8 1501.1,991.2 1486.9,991.2" fill="#744a22"/>
<polygon points="1476.3,1053.1 1483.4,1066.5 1469.2,1066.5" fill="#744a22"/>
<polygon points="1489.3,1059.7 1496.4,1073.1 1482.2,1073.1" fill="#744a22"/>
<polygon points="1468.7,1089.9 1475.8,1103.3 1461.6,1103.3" fill="#744a22"/>
<polygon points="1501.6,1137.9 1508.7,1151.3 1494.5,1151.3" fill="#744a22"/>
<polygon points="1450.3,1253.9 1457.4,1267.3 1443.2,1267.3" fill="#744a22"/>
<polygon points="1457.5,1253.9 1464.6,1267.3 1450.4,1267.3" fill="#744a22"/>
<polygon points="1498.9,1253.9 1506.0,1267.3 1491.8,1267.3" fill="#744a22"/>
<line x1="1249.6" y1="769.8" x2="1281.8" y2="769.8" stroke="#5f9bd3" stroke-width="3" />
<circle cx="1265.7" cy="769.8" r="4.5" fill="#5f9bd3"/>
<text x="1294.5" y="777.7" font-size="20.5"><tspan font-style="italic">dsyB</tspan> (water)</text>
<polygon points="1265.7,801.2 1274.0,816.8 1257.4,816.8" fill="#744a22"/>
<text x="1294.5" y="818.2" font-size="20.5"><tspan font-style="italic">dsyB</tspan> (sediment)</text>
<rect x="1259.0" y="847.5" width="13.4" height="13.4" fill="#744a22" stroke="none" stroke-width="0"/>
<text x="1294.5" y="861" font-size="20.5"><tspan font-style="italic">mmtN</tspan> (sediment)</text>
<rect x="195.6" y="1365.2" width="503.2" height="302" fill="none" stroke="#000" stroke-width="1.7"/>
<line x1="187.6" y1="1365.2" x2="195.6" y2="1365.2" stroke="#000" stroke-width="2" />
<text x="181.3" y="1374.8" font-size="25" text-anchor="end" >1.6E&#8211;6</text>
<line x1="187.6" y1="1441.0" x2="195.6" y2="1441.0" stroke="#000" stroke-width="2" />
<text x="181.3" y="1450.2" font-size="25" text-anchor="end" >1.2E&#8211;6</text>
<line x1="187.6" y1="1516.9" x2="195.6" y2="1516.9" stroke="#000" stroke-width="2" />
<text x="175.7" y="1525.5" font-size="25" text-anchor="end" >8.0E&#8211;7</text>
<line x1="187.6" y1="1591.9" x2="195.6" y2="1591.9" stroke="#000" stroke-width="2" />
<text x="175.7" y="1600.7" font-size="25" text-anchor="end" >4.0E&#8211;7</text>
<line x1="187.6" y1="1667.2" x2="195.6" y2="1667.2" stroke="#000" stroke-width="2" />
<text x="175.7" y="1676.0" font-size="25" text-anchor="end" >0.0</text>
<line x1="190.5" y1="1403.2" x2="195.6" y2="1403.2" stroke="#000" stroke-width="1.5" />
<line x1="190.5" y1="1479.1" x2="195.6" y2="1479.1" stroke="#000" stroke-width="1.5" />
<line x1="190.5" y1="1554.1" x2="195.6" y2="1554.1" stroke="#000" stroke-width="1.5" />
<line x1="190.5" y1="1629.2" x2="195.6" y2="1629.2" stroke="#000" stroke-width="1.5" />
<line x1="698.8" y1="1381.2" x2="708.7" y2="1381.2" stroke="#000" stroke-width="2" />
<text x="719.3" y="1390.0" font-size="25" text-anchor="start" >2.0E&#8211;5</text>
<line x1="698.8" y1="1438.4" x2="708.7" y2="1438.4" stroke="#000" stroke-width="2" />
<text x="719.3" y="1447.2" font-size="25" text-anchor="start" >1.6E&#8211;5</text>
<line x1="698.8" y1="1496.1" x2="708.7" y2="1496.1" stroke="#000" stroke-width="2" />
<text x="719.3" y="1504.9" font-size="25" text-anchor="start" >1.2E&#8211;5</text>
<line x1="698.8" y1="1553.3" x2="708.7" y2="1553.3" stroke="#000" stroke-width="2" />
<text x="719.3" y="1562.1" font-size="25" text-anchor="start" >8.0E&#8211;6</text>
<line x1="698.8" y1="1610.5" x2="708.7" y2="1610.5" stroke="#000" stroke-width="2" />
<text x="719.3" y="1619.3" font-size="25" text-anchor="start" >4.0E&#8211;6</text>
<line x1="698.8" y1="1667.2" x2="708.7" y2="1667.2" stroke="#000" stroke-width="2" />
<text x="719.3" y="1676.0" font-size="25" text-anchor="start" >0.0</text>
<line x1="698.8" y1="1667.2" x2="708.0" y2="1667.2" stroke="#000" stroke-width="2" />
<rect x="215.5" y="1654.4" width="14.6" height="12.8" fill="#dc5386" stroke="none" stroke-width="0"/>
<line x1="222.8" y1="1651.8" x2="222.8" y2="1654.4" stroke="#000" stroke-width="1.5" />
<line x1="217.8" y1="1651.8" x2="227.8" y2="1651.8" stroke="#000" stroke-width="1.5" />
<rect x="233.4" y="1645.9" width="14.6" height="21.3" fill="#3551a7" stroke="none" stroke-width="0"/>
<line x1="240.7" y1="1643.8" x2="240.7" y2="1645.9" stroke="#000" stroke-width="1.5" />
<line x1="235.7" y1="1643.8" x2="245.7" y2="1643.8" stroke="#000" stroke-width="1.5" />
<rect x="251.2" y="1655.2" width="14.6" height="12.0" fill="#b98839" stroke="none" stroke-width="0"/>
<line x1="258.5" y1="1652.6" x2="258.5" y2="1655.2" stroke="#000" stroke-width="1.5" />
<line x1="253.5" y1="1652.6" x2="263.5" y2="1652.6" stroke="#000" stroke-width="1.5" />
<rect x="268.8" y="1578.3" width="14.6" height="88.9" fill="#4f8276" stroke="none" stroke-width="0"/>
<line x1="276.1" y1="1567.4" x2="276.1" y2="1578.3" stroke="#000" stroke-width="1.5" />
<line x1="271.1" y1="1567.4" x2="281.1" y2="1567.4" stroke="#000" stroke-width="1.5" />
<rect x="315.3" y="1652.6" width="14.6" height="14.6" fill="#dc5386" stroke="none" stroke-width="0"/>
<line x1="322.6" y1="1650.0" x2="322.6" y2="1652.6" stroke="#000" stroke-width="1.5" />
<line x1="317.6" y1="1650.0" x2="327.6" y2="1650.0" stroke="#000" stroke-width="1.5" />
<rect x="332.6" y="1647.3" width="14.6" height="19.9" fill="#3551a7" stroke="none" stroke-width="0"/>
<line x1="339.9" y1="1644.6" x2="339.9" y2="1647.3" stroke="#000" stroke-width="1.5" />
<line x1="334.9" y1="1644.6" x2="344.9" y2="1644.6" stroke="#000" stroke-width="1.5" />
<rect x="350.7" y="1643.8" width="14.6" height="23.4" fill="#b98839" stroke="none" stroke-width="0"/>
<line x1="358.0" y1="1626.8" x2="358.0" y2="1643.8" stroke="#000" stroke-width="1.5" />
<line x1="353.0" y1="1626.8" x2="363.0" y2="1626.8" stroke="#000" stroke-width="1.5" />
<rect x="368.5" y="1570.1" width="14.6" height="97.1" fill="#4f8276" stroke="none" stroke-width="0"/>
<line x1="375.8" y1="1522.2" x2="375.8" y2="1570.1" stroke="#000" stroke-width="1.5" />
<line x1="370.8" y1="1522.2" x2="380.8" y2="1522.2" stroke="#000" stroke-width="1.5" />
<rect x="415.1" y="1653.1" width="14.6" height="14.1" fill="#dc5386" stroke="none" stroke-width="0"/>
<line x1="422.4" y1="1650.7" x2="422.4" y2="1653.1" stroke="#000" stroke-width="1.5" />
<line x1="417.4" y1="1650.7" x2="427.4" y2="1650.7" stroke="#000" stroke-width="1.5" />
<rect x="433.0" y="1649.1" width="14.6" height="18.1" fill="#3551a7" stroke="none" stroke-width="0"/>
<rect x="450.5" y="1648.6" width="14.6" height="18.6" fill="#b98839" stroke="none" stroke-width="0"/>
<line x1="457.8" y1="1640.6" x2="457.8" y2="1648.6" stroke="#000" stroke-width="1.5" />
<line x1="452.8" y1="1640.6" x2="462.8" y2="1640.6" stroke="#000" stroke-width="1.5" />
<rect x="468.7" y="1602.0" width="14.6" height="65.2" fill="#4f8276" stroke="none" stroke-width="0"/>
<line x1="476.0" y1="1587.4" x2="476.0" y2="1602.0" stroke="#000" stroke-width="1.5" />
<line x1="471.0" y1="1587.4" x2="481.0" y2="1587.4" stroke="#000" stroke-width="1.5" />
<rect x="510.7" y="1648.6" width="14.6" height="18.6" fill="#dc5386" stroke="none" stroke-width="0"/>
<line x1="518.0" y1="1647.3" x2="518.0" y2="1648.6" stroke="#000" stroke-width="1.5" />
<line x1="513.0" y1="1647.3" x2="523.0" y2="1647.3" stroke="#000" stroke-width="1.5" />
<rect x="528.3" y="1645.4" width="14.6" height="21.8" fill="#3551a7" stroke="none" stroke-width="0"/>
<line x1="535.6" y1="1643.8" x2="535.6" y2="1645.4" stroke="#000" stroke-width="1.5" />
<line x1="530.6" y1="1643.8" x2="540.6" y2="1643.8" stroke="#000" stroke-width="1.5" />
<rect x="546.1" y="1634.0" width="14.6" height="33.2" fill="#b98839" stroke="none" stroke-width="0"/>
<line x1="553.4" y1="1629.4" x2="553.4" y2="1634.0" stroke="#000" stroke-width="1.5" />
<line x1="548.4" y1="1629.4" x2="558.4" y2="1629.4" stroke="#000" stroke-width="1.5" />
<rect x="564.2" y="1578.1" width="14.6" height="89.1" fill="#4f8276" stroke="none" stroke-width="0"/>
<line x1="571.5" y1="1562.9" x2="571.5" y2="1578.1" stroke="#000" stroke-width="1.5" />
<line x1="566.5" y1="1562.9" x2="576.5" y2="1562.9" stroke="#000" stroke-width="1.5" />
<rect x="606.2" y="1593.2" width="14.6" height="74.0" fill="#dc5386" stroke="none" stroke-width="0"/>
<line x1="613.5" y1="1567.4" x2="613.5" y2="1593.2" stroke="#000" stroke-width="1.5" />
<line x1="608.5" y1="1567.4" x2="618.5" y2="1567.4" stroke="#000" stroke-width="1.5" />
<rect x="624.1" y="1542.9" width="14.6" height="124.3" fill="#3551a7" stroke="none" stroke-width="0"/>
<line x1="631.4" y1="1511.5" x2="631.4" y2="1542.9" stroke="#000" stroke-width="1.5" />
<line x1="626.4" y1="1511.5" x2="636.4" y2="1511.5" stroke="#000" stroke-width="1.5" />
<rect x="642.2" y="1456.5" width="14.6" height="210.7" fill="#b98839" stroke="none" stroke-width="0"/>
<line x1="649.5" y1="1405.9" x2="649.5" y2="1456.5" stroke="#000" stroke-width="1.5" />
<line x1="644.5" y1="1405.9" x2="654.5" y2="1405.9" stroke="#000" stroke-width="1.5" />
<rect x="660.0" y="1469.0" width="14.6" height="198.2" fill="#4f8276" stroke="none" stroke-width="0"/>
<line x1="667.3" y1="1401.9" x2="667.3" y2="1469.0" stroke="#000" stroke-width="1.5" />
<line x1="662.3" y1="1401.9" x2="672.3" y2="1401.9" stroke="#000" stroke-width="1.5" />
<line x1="195.6" y1="1667.2" x2="708.0" y2="1667.2" stroke="#000" stroke-width="1.5" />
<text x="248.3" y="1698.3" font-size="25" text-anchor="middle" >0</text>
<text x="351.8" y="1698.3" font-size="25" text-anchor="middle" >10</text>
<text x="450.0" y="1698.3" font-size="25" text-anchor="middle" >20</text>
<text x="545.8" y="1698.3" font-size="25" text-anchor="middle" >30</text>
<text x="641.4" y="1698.3" font-size="25" text-anchor="middle" >40</text>
<text x="451.5" y="1736.3" font-size="25" text-anchor="middle" >Pressure (MPa)</text>
<rect x="230.5" y="1396.3" width="30.3" height="16.6" fill="#dc5386" stroke="none" stroke-width="0"/>
<text x="272" y="1411.7" font-size="20.5">ZYF240</text>
<rect x="230.5" y="1429.3" width="30.3" height="16.6" fill="#3551a7" stroke="none" stroke-width="0"/>
<text x="272" y="1444.7" font-size="20.5">ZYF612</text>
<rect x="230.5" y="1461.5" width="30.3" height="16.6" fill="#b98839" stroke="none" stroke-width="0"/>
<text x="272" y="1476.9" font-size="20.5">J526</text>
<rect x="230.5" y="1491.0" width="30.3" height="16.6" fill="#4f8276" stroke="none" stroke-width="0"/>
<text x="272" y="1506.4" font-size="20.5">La6</text>
<text x="0" y="0" font-size="25" text-anchor="middle" transform="translate(72.7,1517) rotate(-90)">DMSP production (nmol/cfu)</text>
<text x="0" y="0" font-size="25" text-anchor="middle" transform="translate(836.5,1517.5) rotate(-90)">J526 DMSP production (nmol/cfu)</text>
<line x1="1243.0" y1="1329.3" x2="1243.0" y2="1666.7" stroke="#000" stroke-width="2" />
<line x1="1242.0" y1="1666.5" x2="1685.2" y2="1666.5" stroke="#000" stroke-width="2" />
<line x1="1242.8" y1="1666.5" x2="1242.8" y2="1674.3" stroke="#000" stroke-width="2" />
<line x1="1352.9" y1="1666.5" x2="1352.9" y2="1674.3" stroke="#000" stroke-width="2" />
<line x1="1463.2" y1="1666.5" x2="1463.2" y2="1674.3" stroke="#000" stroke-width="2" />
<line x1="1573.9" y1="1666.5" x2="1573.9" y2="1674.3" stroke="#000" stroke-width="2" />
<line x1="1685.2" y1="1666.5" x2="1685.2" y2="1674.3" stroke="#000" stroke-width="2" />
<text x="1242.6" y="1706.5" font-size="25" text-anchor="middle" >0</text>
<text x="1352.9" y="1706.5" font-size="25" text-anchor="middle" >1E + 06</text>
<text x="1463.2" y="1706.5" font-size="25" text-anchor="middle" >2E + 06</text>
<text x="1573.9" y="1706.5" font-size="25" text-anchor="middle" >3E + 06</text>
<text x="1684.0" y="1706.5" font-size="25" text-anchor="middle" >4E + 06</text>
<text x="1292.0" y="1744.8" font-size="25" text-anchor="start" >Growth under pressure (cfu/ml)</text>
<line x1="1537.0" y1="1349.6" x2="1497.4" y2="1349.6" stroke="#000" stroke-width="2" />
<line x1="1537.0" y1="1343.1" x2="1537.0" y2="1356.1" stroke="#000" stroke-width="2" />
<rect x="1243.0" y="1337.2" width="254.4" height="24.7" fill="#f0b582" stroke="#000" stroke-width="2"/>
<text x="1546.2" y="1354.3" font-size="21" text-anchor="start" >a</text>
<line x1="1234.0" y1="1348.9" x2="1243.0" y2="1348.9" stroke="#000" stroke-width="2" />
<text x="1223.6" y="1356.2" font-size="25" text-anchor="end" >Wild</text>
<line x1="1308.6" y1="1385.8" x2="1294.5" y2="1385.8" stroke="#000" stroke-width="2" />
<line x1="1308.6" y1="1379.3" x2="1308.6" y2="1392.3" stroke="#000" stroke-width="2" />
<rect x="1243.0" y="1373.3" width="51.5" height="25.0" fill="#bdb52e" stroke="#000" stroke-width="2"/>
<text x="1318.4" y="1393.7" font-size="21" text-anchor="start" >b</text>
<line x1="1234.0" y1="1385.8" x2="1243.0" y2="1385.8" stroke="#000" stroke-width="2" />
<text x="1223.6" y="1393.8" font-size="25" text-anchor="end" >Mutant</text>
<line x1="1495.9" y1="1422.9" x2="1467.2" y2="1422.9" stroke="#000" stroke-width="2" />
<line x1="1495.9" y1="1416.4" x2="1495.9" y2="1429.4" stroke="#000" stroke-width="2" />
<rect x="1243.0" y="1410.8" width="224.2" height="24.2" fill="#f26c99" stroke="#000" stroke-width="2"/>
<text x="1506.5" y="1428.0" font-size="21" text-anchor="start" >a</text>
<line x1="1234.0" y1="1422.8" x2="1243.0" y2="1422.8" stroke="#000" stroke-width="2" />
<text x="1223.6" y="1429.6" font-size="25" text-anchor="end"><tspan font-style="italic">dsyB</tspan> complemented</text>
<line x1="1466.6" y1="1461.6" x2="1423.6" y2="1461.6" stroke="#000" stroke-width="2" />
<line x1="1466.6" y1="1455.1" x2="1466.6" y2="1468.1" stroke="#000" stroke-width="2" />
<rect x="1243.0" y="1449.4" width="180.6" height="24.4" fill="#8dabd2" stroke="#000" stroke-width="2"/>
<text x="1476.3" y="1467.0" font-size="21" text-anchor="start" >a</text>
<line x1="1234.0" y1="1461.6" x2="1243.0" y2="1461.6" stroke="#000" stroke-width="2" />
<text x="1223.6" y="1468.4" font-size="25" text-anchor="end" >DMSP complemented</text>
<line x1="1493.1" y1="1537.7" x2="1471.5" y2="1537.7" stroke="#000" stroke-width="2" />
<line x1="1493.1" y1="1531.2" x2="1493.1" y2="1544.2" stroke="#000" stroke-width="2" />
<rect x="1243.0" y="1525.5" width="228.5" height="24.4" fill="#f0b582" stroke="#000" stroke-width="2"/>
<text x="1502.3" y="1543.5" font-size="21" text-anchor="start" >a</text>
<line x1="1234.0" y1="1537.2" x2="1243.0" y2="1537.2" stroke="#000" stroke-width="2" />
<text x="1223.6" y="1544.5" font-size="25" text-anchor="end" >Wild</text>
<line x1="1343.2" y1="1574.6" x2="1338.9" y2="1574.6" stroke="#000" stroke-width="2" />
<line x1="1343.2" y1="1568.1" x2="1343.2" y2="1581.1" stroke="#000" stroke-width="2" />
<rect x="1243.0" y="1562.2" width="95.9" height="24.7" fill="#bdb52e" stroke="#000" stroke-width="2"/>
<text x="1353.3" y="1580.7" font-size="21" text-anchor="start" >b</text>
<line x1="1234.0" y1="1574.4" x2="1243.0" y2="1574.4" stroke="#000" stroke-width="2" />
<text x="1223.6" y="1582.4" font-size="25" text-anchor="end" >Mutant</text>
<line x1="1573.6" y1="1611.3" x2="1534.9" y2="1611.3" stroke="#000" stroke-width="2" />
<line x1="1573.6" y1="1604.8" x2="1573.6" y2="1617.8" stroke="#000" stroke-width="2" />
<rect x="1243.0" y="1599.1" width="291.9" height="24.4" fill="#f26c99" stroke="#000" stroke-width="2"/>
<text x="1582.1" y="1616.7" font-size="21" text-anchor="start" >a</text>
<line x1="1234.0" y1="1611.0" x2="1243.0" y2="1611.0" stroke="#000" stroke-width="2" />
<text x="1223.6" y="1617.8" font-size="25" text-anchor="end"><tspan font-style="italic">dsyB</tspan> complemented</text>
<line x1="1537.3" y1="1647.8" x2="1508.4" y2="1647.8" stroke="#000" stroke-width="2" />
<line x1="1537.3" y1="1641.3" x2="1537.3" y2="1654.3" stroke="#000" stroke-width="2" />
<rect x="1243.0" y="1635.8" width="265.4" height="24.1" fill="#8dabd2" stroke="#000" stroke-width="2"/>
<text x="1546.2" y="1653.3" font-size="21" text-anchor="start" >a</text>
<line x1="1234.0" y1="1647.7" x2="1243.0" y2="1647.7" stroke="#000" stroke-width="2" />
<text x="1223.6" y="1654.5" font-size="25" text-anchor="end" >DMSP complemented</text>
<text x="1604.4" y="1409.8" font-size="25" text-anchor="start" >J526</text>
<text x="1621.2" y="1590.8" font-size="25" text-anchor="start" >La6</text>
<line x1="1019.0" y1="1500.8" x2="1752.0" y2="1500.8" stroke="#000" stroke-width="2" stroke-dasharray="24.4 24.5" stroke-dashoffset="12"/>
</svg>
</body></html>
